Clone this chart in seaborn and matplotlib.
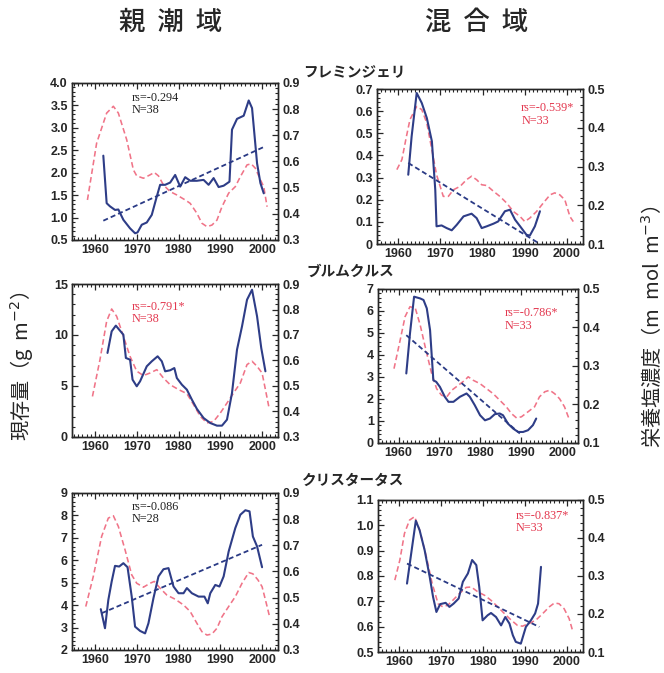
import matplotlib

matplotlib.use("Agg")
import matplotlib.pyplot as plt
import seaborn as sns
from matplotlib.ticker import AutoMinorLocator, FixedLocator

sns.set_style("ticks")
plt.rcParams["font.family"] = ["Liberation Sans", "Noto Sans CJK JP", "DejaVu Sans"]

jp = ["Noto Sans CJK JP", "DejaVu Sans"]

# --- data ---------------------------------------------------------------------
# 親潮域 / フレミンジェリ
oya_fle_bio_yr = [1962.0, 1962.8, 1963.6, 1964.8, 1965.6, 1966.8, 1968.4, 1969.6, 1970.2, 1971.2,
                  1972.4, 1973.6, 1974.8, 1975.6, 1976.8, 1978.0, 1979.2, 1980.4, 1981.6, 1982.8,
                  1984.4, 1986.0, 1987.2, 1988.4, 1989.6, 1990.8, 1992.2, 1992.8, 1994.0, 1995.6,
                  1996.8, 1997.6, 1998.8, 1999.6, 2000.4]
oya_fle_bio = [2.38, 1.32, 1.25, 1.17, 1.18, 0.95, 0.76, 0.65, 0.67, 0.84,
               0.89, 1.06, 1.47, 1.73, 1.73, 1.78, 1.95, 1.69, 1.90, 1.82,
               1.82, 1.84, 1.73, 1.88, 1.68, 1.71, 1.80, 2.96, 3.20, 3.27,
               3.61, 3.44, 2.21, 1.77, 1.54]
oya_fle_nut_yr = [1958.2, 1960.4, 1962.8, 1964.4, 1965.6, 1967.6, 1969.2, 1970.0, 1971.6, 1973.2,
                  1974.2, 1975.2, 1976.4, 1978.0, 1979.6, 1981.6, 1982.8, 1984.4, 1985.6, 1986.8,
                  1988.0, 1989.2, 1990.4, 1992.0, 1993.6, 1994.8, 1996.4, 1997.4, 1998.4, 1999.6,
                  2000.4, 2001.2]
oya_fle_nut = [0.453, 0.670, 0.785, 0.811, 0.785, 0.683, 0.568, 0.545, 0.536, 0.549,
               0.558, 0.545, 0.510, 0.485, 0.472, 0.453, 0.440, 0.402, 0.364, 0.351,
               0.357, 0.376, 0.427, 0.479, 0.504, 0.542, 0.587, 0.591, 0.574, 0.530,
               0.504, 0.427]
oya_fle_trend_yr = [1962.0, 2000.8]
oya_fle_trend = [0.93, 2.59]

# 混合域 / フレミンジェリ
mix_fle_bio_yr = [1962.4, 1963.2, 1964.4, 1965.6, 1966.8, 1968.0, 1968.8, 1969.1, 1970.3, 1971.5,
                  1972.7, 1973.9, 1975.5, 1977.4, 1978.6, 1979.8, 1981.0, 1982.6, 1983.7, 1985.3,
                  1986.5, 1987.7, 1988.9, 1990.4, 1991.2, 1992.4, 1993.6]
mix_fle_bio = [0.313, 0.486, 0.682, 0.637, 0.569, 0.464, 0.245, 0.080, 0.084, 0.072,
               0.062, 0.087, 0.125, 0.137, 0.117, 0.072, 0.080, 0.092, 0.102, 0.148,
               0.155, 0.110, 0.080, 0.042, 0.038, 0.080, 0.148]
mix_fle_nut_yr = [1959.7, 1960.9, 1961.9, 1962.8, 1964.4, 1965.6, 1966.8, 1968.0, 1969.1, 1970.7,
                  1971.9, 1973.1, 1974.7, 1976.2, 1977.4, 1978.6, 1979.8, 1981.0, 1982.6, 1984.1,
                  1985.7, 1987.3, 1988.9, 1990.0, 1991.2, 1992.8, 1994.4, 1996.0, 1997.1, 1998.3,
                  1999.5, 2000.7, 2001.5]
mix_fle_nut = [0.292, 0.318, 0.374, 0.421, 0.455, 0.447, 0.412, 0.343, 0.279, 0.223,
               0.223, 0.240, 0.249, 0.266, 0.275, 0.266, 0.253, 0.251, 0.236, 0.223,
               0.206, 0.184, 0.171, 0.158, 0.167, 0.184, 0.206, 0.227, 0.232, 0.227,
               0.214, 0.171, 0.158]
mix_fle_trend_yr = [1962.4, 1993.2]
mix_fle_trend = [0.366, 0.005]

# 親潮域 / ブルムクルス
oya_blu_bio_yr = [1963.0, 1964.0, 1965.0, 1965.8, 1966.8, 1967.4, 1968.4, 1969.0, 1970.0, 1970.8,
                  1972.4, 1973.6, 1975.0, 1976.0, 1976.8, 1978.0, 1979.0, 1979.6, 1980.8, 1982.0,
                  1983.2, 1984.4, 1986.0, 1987.6, 1989.2, 1990.4, 1991.6, 1992.8, 1994.0, 1995.2,
                  1996.4, 1997.6, 1998.8, 1999.8, 2000.8]
oya_blu_bio = [8.24, 10.36, 10.92, 10.52, 10.03, 7.75, 7.58, 5.62, 4.97, 5.46,
               6.93, 7.42, 7.91, 7.42, 6.44, 6.54, 6.76, 5.78, 5.13, 4.64,
               3.66, 2.75, 1.86, 1.37, 1.11, 1.11, 1.70, 4.31, 8.56, 10.85,
               13.46, 14.44, 11.83, 8.73, 6.44]
oya_blu_nut_yr = [1959.4, 1961.2, 1962.8, 1964.0, 1965.2, 1966.8, 1968.4, 1970.0, 1971.6, 1973.2,
                  1974.8, 1976.4, 1978.0, 1980.0, 1982.0, 1983.6, 1985.2, 1986.8, 1988.4, 1990.0,
                  1991.6, 1993.2, 1994.8, 1996.4, 1997.6, 1998.8, 2000.0, 2000.8, 2001.6]
oya_blu_nut = [0.459, 0.603, 0.754, 0.802, 0.773, 0.695, 0.616, 0.558, 0.541, 0.551,
               0.564, 0.531, 0.505, 0.486, 0.470, 0.427, 0.381, 0.355, 0.361, 0.394,
               0.433, 0.473, 0.512, 0.584, 0.597, 0.577, 0.551, 0.486, 0.420]

# 混合域 / ブルムクルス
mix_blu_bio_yr = [1961.9, 1962.8, 1963.8, 1965.3, 1966.1, 1966.9, 1967.7, 1968.5, 1969.2, 1970.1,
                  1971.3, 1972.2, 1973.4, 1975.0, 1976.6, 1977.4, 1978.6, 1979.9, 1981.1, 1982.3,
                  1983.5, 1984.7, 1985.5, 1986.7, 1988.0, 1989.2, 1990.4, 1991.6, 1992.8, 1993.6]
mix_blu_bio = [3.16, 4.98, 6.65, 6.57, 6.50, 6.12, 5.13, 2.85, 2.78, 2.55,
               2.10, 1.87, 1.87, 2.10, 2.25, 2.10, 1.72, 1.26, 1.03, 1.11,
               1.31, 1.34, 1.26, 0.88, 0.65, 0.50, 0.50, 0.58, 0.81, 1.11]
mix_blu_nut_yr = [1958.9, 1960.4, 1961.6, 1962.8, 1964.1, 1965.3, 1966.7, 1968.1, 1969.3, 1970.5,
                  1971.8, 1973.0, 1974.6, 1976.2, 1977.0, 1978.2, 1979.9, 1981.5, 1983.1, 1984.7,
                  1986.3, 1987.6, 1988.8, 1990.0, 1991.6, 1993.2, 1994.4, 1995.7, 1996.9, 1998.1,
                  1999.3, 2000.5, 2001.6]
mix_blu_nut = [0.293, 0.367, 0.428, 0.454, 0.450, 0.406, 0.341, 0.280, 0.241, 0.224,
               0.220, 0.237, 0.250, 0.263, 0.272, 0.263, 0.254, 0.241, 0.228, 0.211,
               0.194, 0.176, 0.165, 0.168, 0.181, 0.194, 0.220, 0.233, 0.237, 0.228,
               0.215, 0.194, 0.163]
mix_blu_trend_yr = [1961.9, 1989.6]
mix_blu_trend = [4.90, 0.43]

# 親潮域 / クリスタータス
oya_cri_bio_yr = [1961.4, 1962.4, 1963.2, 1964.0, 1964.8, 1965.8, 1966.8, 1967.8, 1968.8, 1969.6,
                  1970.8, 1972.0, 1972.8, 1974.0, 1975.2, 1976.4, 1977.6, 1978.8, 1980.0, 1981.2,
                  1982.0, 1983.2, 1984.8, 1986.2, 1987.0, 1987.6, 1988.8, 1989.8, 1990.8, 1992.0,
                  1993.6, 1994.8, 1996.0, 1997.0, 1997.8, 1998.8, 2000.0]
oya_cri_bio = [3.82, 2.97, 4.23, 5.05, 5.75, 5.72, 5.87, 5.69, 4.38, 3.04,
               2.85, 2.74, 3.19, 4.31, 5.28, 5.60, 5.65, 4.83, 4.53, 4.53,
               4.76, 4.53, 4.38, 4.38, 4.08, 4.53, 4.90, 4.83, 5.28, 6.39,
               7.44, 8.03, 8.23, 8.18, 7.06, 6.62, 5.69]
oya_cri_nut_yr = [1957.8, 1959.6, 1961.6, 1963.2, 1964.4, 1965.6, 1967.2, 1968.8, 1970.0, 1971.6,
                  1973.2, 1974.2, 1975.6, 1977.2, 1979.2, 1981.2, 1982.8, 1984.4, 1985.6, 1986.8,
                  1988.0, 1989.2, 1990.4, 1992.0, 1993.6, 1995.2, 1996.8, 1997.8, 1999.0, 2000.0,
                  2001.0, 2001.8]
oya_cri_nut = [0.466, 0.581, 0.734, 0.804, 0.813, 0.772, 0.683, 0.587, 0.555, 0.540,
               0.555, 0.562, 0.536, 0.510, 0.494, 0.472, 0.447, 0.402, 0.370, 0.357,
               0.361, 0.383, 0.427, 0.466, 0.504, 0.555, 0.596, 0.591, 0.568, 0.542,
               0.479, 0.427]
oya_cri_trend_yr = [1961.6, 2000.0]
oya_cri_trend = [3.64, 6.69]

# 混合域 / クリスタータス
mix_cri_bio_yr = [1961.9, 1962.9, 1964.0, 1964.9, 1966.1, 1967.3, 1968.1, 1968.9, 1969.8, 1971.1,
                  1972.0, 1973.0, 1974.2, 1975.2, 1976.4, 1977.4, 1978.4, 1979.1, 1979.9, 1981.1,
                  1981.9, 1983.1, 1984.3, 1985.3, 1986.3, 1987.1, 1987.8, 1989.0, 1990.2, 1991.4,
                  1992.4, 1993.1, 1993.8]
mix_cri_bio = [0.770, 0.889, 1.018, 0.981, 0.902, 0.797, 0.718, 0.658, 0.689, 0.694,
               0.678, 0.691, 0.711, 0.777, 0.810, 0.863, 0.843, 0.757, 0.625, 0.645,
               0.654, 0.638, 0.605, 0.638, 0.612, 0.566, 0.540, 0.533, 0.599, 0.625,
               0.652, 0.691, 0.836]
mix_cri_nut_yr = [1959.0, 1960.2, 1961.3, 1962.5, 1963.7, 1964.9, 1966.5, 1967.9, 1969.3, 1970.4,
                  1971.6, 1972.8, 1974.4, 1976.0, 1977.2, 1978.8, 1980.4, 1981.9, 1983.5, 1985.1,
                  1986.7, 1988.2, 1989.4, 1991.0, 1992.6, 1994.2, 1995.8, 1997.0, 1998.1, 1999.3,
                  2000.5, 2001.3]
mix_cri_nut = [0.289, 0.342, 0.412, 0.447, 0.456, 0.421, 0.351, 0.280, 0.227, 0.219,
               0.223, 0.236, 0.254, 0.270, 0.271, 0.258, 0.249, 0.236, 0.219, 0.201,
               0.184, 0.170, 0.168, 0.175, 0.184, 0.201, 0.219, 0.229, 0.227, 0.214,
               0.188, 0.157]
mix_cri_trend_yr = [1961.9, 1993.4]
mix_cri_trend = [0.849, 0.599]

# statistics printed in each panel
stat_texts = ["rs=-0.294\nN=38", "rs=-0.539*\nN=33", "rs=-0.791*\nN=38",
              "rs=-0.786*\nN=33", "rs=-0.086\nN=28", "rs=-0.837*\nN=33"]
significant = [False, True, True, True, False, True]

# axis ticks
year_ticks = [1960, 1970, 1980, 1990, 2000]
oya_nut_ticks = [0.3, 0.4, 0.5, 0.6, 0.7, 0.8, 0.9]
mix_nut_ticks = [0.1, 0.2, 0.3, 0.4, 0.5]
oya_fle_ticks = [0.5, 1.0, 1.5, 2.0, 2.5, 3.0, 3.5, 4.0]
mix_fle_ticks = [0, 0.1, 0.2, 0.3, 0.4, 0.5, 0.6, 0.7]
mix_fle_labels = ["0", "0.1", "0.2", "0.3", "0.4", "0.5", "0.6", "0.7"]
oya_blu_ticks = [0, 5, 10, 15]
mix_blu_ticks = [0, 1, 2, 3, 4, 5, 6, 7]
oya_cri_ticks = [2, 3, 4, 5, 6, 7, 8, 9]
mix_cri_ticks = [0.5, 0.6, 0.7, 0.8, 0.9, 1.0, 1.1]

species = ["フレミンジェリ", "ブルムクルス", "クリスタータス"]
regions = ["親  潮  域", "混  合  域"]

# --- drawing ------------------------------------------------------------------
BLUE = "#2e3d87"
RED = "#f07488"
TREND = "#2a3a85"

fig = plt.figure(figsize=(6.64, 6.73), dpi=100)

boxes = [
    [0.1084, 0.6434, 0.3102, 0.2333],
    [0.5678, 0.6374, 0.3102, 0.2303],
    [0.1084, 0.3507, 0.3102, 0.2273],
    [0.5693, 0.3418, 0.3012, 0.2288],
    [0.1084, 0.0342, 0.3102, 0.2333],
    [0.5693, 0.0312, 0.3087, 0.2259],
]
stat_pos = [(0.29, 0.945), (0.70, 0.915), (0.29, 0.89), (0.635, 0.88), (0.29, 0.95), (0.67, 0.935)]

panels = [
    (oya_fle_bio_yr, oya_fle_bio, oya_fle_nut_yr, oya_fle_nut, oya_fle_trend_yr, oya_fle_trend,
     oya_fle_ticks, ["%.1f" % v for v in oya_fle_ticks], oya_nut_ticks),
    (mix_fle_bio_yr, mix_fle_bio, mix_fle_nut_yr, mix_fle_nut, mix_fle_trend_yr, mix_fle_trend,
     mix_fle_ticks, mix_fle_labels, mix_nut_ticks),
    (oya_blu_bio_yr, oya_blu_bio, oya_blu_nut_yr, oya_blu_nut, None, None,
     oya_blu_ticks, [str(v) for v in oya_blu_ticks], oya_nut_ticks),
    (mix_blu_bio_yr, mix_blu_bio, mix_blu_nut_yr, mix_blu_nut, mix_blu_trend_yr, mix_blu_trend,
     mix_blu_ticks, [str(v) for v in mix_blu_ticks], mix_nut_ticks),
    (oya_cri_bio_yr, oya_cri_bio, oya_cri_nut_yr, oya_cri_nut, oya_cri_trend_yr, oya_cri_trend,
     oya_cri_ticks, [str(v) for v in oya_cri_ticks], oya_nut_ticks),
    (mix_cri_bio_yr, mix_cri_bio, mix_cri_nut_yr, mix_cri_nut, mix_cri_trend_yr, mix_cri_trend,
     mix_cri_ticks, ["%.1f" % v for v in mix_cri_ticks], mix_nut_ticks),
]

tickfont = dict(fontsize=9, fontweight="bold")

for i, (bx, by, nx, ny, tx, ty, lt, ll, rt) in enumerate(panels):
    ax = fig.add_axes(boxes[i])
    ax2 = ax.twinx()

    sns.lineplot(x=nx, y=ny, ax=ax2, color=RED, linestyle=(0, (3.5, 2)), linewidth=1.15,
                 estimator=None, sort=False)
    sns.lineplot(x=bx, y=by, ax=ax, color=BLUE, linewidth=1.5, estimator=None, sort=False)
    if tx is not None:
        sns.lineplot(x=tx, y=ty, ax=ax, color=TREND, linestyle=(0, (2.8, 1.7)), linewidth=1.3,
                     estimator=None, sort=False)
    ax.set_zorder(ax2.get_zorder() + 1)
    ax.patch.set_visible(False)

    ax.set_xlim(1954.5 if i % 2 == 0 else 1955.0, 2003.8)
    ax.set_ylim(lt[0], lt[-1])
    ax2.set_ylim(rt[0], rt[-1])

    ax.xaxis.set_major_locator(FixedLocator(year_ticks))
    ax.xaxis.set_minor_locator(AutoMinorLocator(10))
    ax.set_xticklabels([str(y) for y in year_ticks], **tickfont)
    ax.yaxis.set_major_locator(FixedLocator(lt))
    ax.yaxis.set_minor_locator(AutoMinorLocator(5))
    ax.set_yticklabels(ll, **tickfont)
    ax2.yaxis.set_major_locator(FixedLocator(rt))
    ax2.yaxis.set_minor_locator(AutoMinorLocator(5))
    ax2.set_yticklabels(["%.1f" % v for v in rt], **tickfont)

    ax.tick_params(axis="x", which="both", direction="in", top=True, bottom=True, pad=3)
    ax.tick_params(axis="y", which="both", direction="in", left=True, right=False, pad=3)
    ax2.tick_params(axis="y", which="both", direction="in", right=True, pad=3)
    for a in (ax, ax2):
        a.tick_params(which="major", length=4, width=0.9)
        a.tick_params(which="minor", length=2.2, width=0.8)
        for s in a.spines.values():
            s.set_linewidth(1.0)
            s.set_visible(True)
    ax.set(xlabel="", ylabel="")
    ax2.set(ylabel="")

    ax.text(*stat_pos[i], stat_texts[i], transform=ax.transAxes, ha="left", va="top",
            family="Liberation Serif", fontsize=8.8, linespacing=1.05,
            color="#e3384f" if significant[i] else "#222222")

# column headings
fig.text(0.2575, 0.966, regions[0], ha="center", va="center", family=jp, fontsize=19,
         fontweight="medium")
fig.text(0.717, 0.966, regions[1], ha="center", va="center", family=jp, fontsize=19,
         fontweight="medium")

# species names
for name, (x, y) in zip(species, [(0.456, 0.893), (0.462, 0.597), (0.455, 0.287)]):
    fig.text(x, y, name, ha="left", va="center", family=jp, fontsize=10.5, fontweight="bold")

# axis titles
fig.text(0.032, 0.455, "現存量（g  m$^{-2}$）", rotation=90, ha="center", va="center",
         family=jp, fontsize=14.5)
fig.text(0.982, 0.514, "栄養塩濃度（m  mol  m$^{-3}$）", rotation=90, ha="center", va="center",
         family=jp, fontsize=14.5)

fig.savefig("out.png", dpi=100)
